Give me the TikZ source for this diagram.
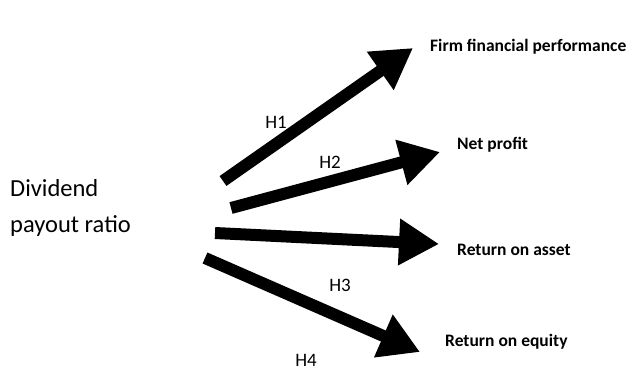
\documentclass[tikz,border=0pt]{standalone}
\usepackage{fontspec}
\setmainfont{Carlito}
\usetikzlibrary{arrows.meta}
\begin{document}
\begin{tikzpicture}[x=1pt,y=-1pt,
  bigarrow/.style={line width=12pt,draw=black,-{Triangle[length=40pt,width=44pt]}},
  target/.style={anchor=west,font=\bfseries\fontsize{17.5}{21}\selectfont,inner sep=0pt},
  hlabel/.style={font=\fontsize{19}{22}\selectfont,inner sep=0pt},
  source/.style={anchor=west,font=\fontsize{24.5}{28}\selectfont,inner sep=0pt}]
\useasboundingbox (0,0) rectangle (640,372);
\node[source] (d1) at (10,188) {Dividend};
\node[source] (d2) at (10,226) {payout ratio};
\coordinate (t1) at (223,181);
\coordinate (e1) at (413,48);
\coordinate (t2) at (231,208);
\coordinate (e2) at (440,152);
\coordinate (t3) at (215,233);
\coordinate (e3) at (439,244);
\coordinate (t4) at (205,258);
\coordinate (e4) at (420,352);
\draw[bigarrow] (t1) -- (e1);
\draw[bigarrow] (t2) -- (e2);
\draw[bigarrow] (t3) -- (e3);
\draw[bigarrow] (t4) -- (e4);
\node[target] (n1) at (430,47) {Firm financial performance};
\node[target] (n2) at (457,145) {Net profit};
\node[target] (n3) at (457,250) {Return on asset};
\node[target] (n4) at (445,342) {Return on equity};
\node[hlabel] (h1) at (276,122) {H1};
\node[hlabel] (h2) at (330,162) {H2};
\node[hlabel] (h3) at (340,285) {H3};
\node[hlabel] (h4) at (306,360) {H4};
\end{tikzpicture}
\end{document}
